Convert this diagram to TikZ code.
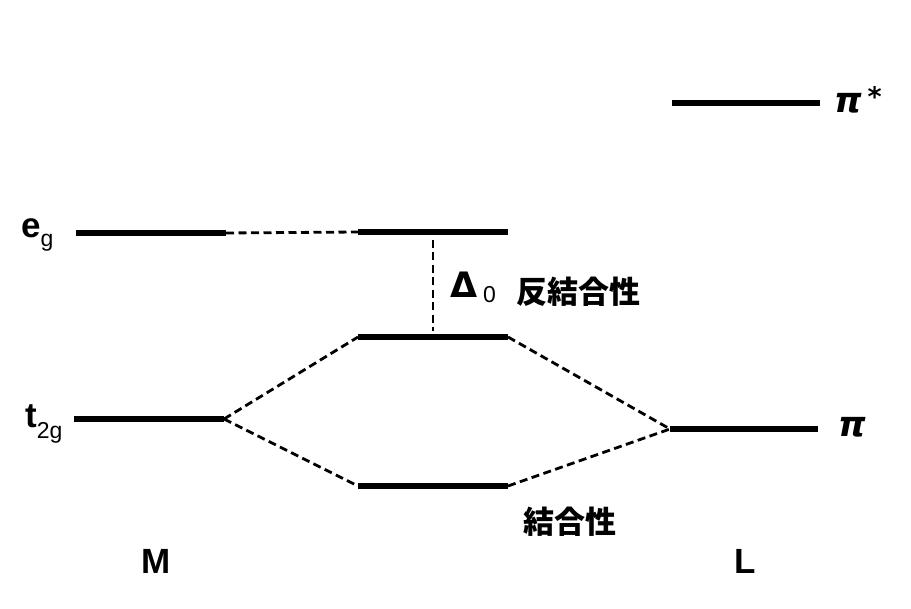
\documentclass[tikz,border=0pt]{standalone}
\usepackage{fontspec}
\setmainfont{Liberation Sans}
\newfontfamily\jpfont{Noto Sans CJK JP}
\newfontfamily\grfont{DejaVu Sans}
\usetikzlibrary{calc}

\begin{document}
\begin{tikzpicture}[
        x=1pt, y=-1pt,
        level/.style={line width=6.5pt},
        link/.style={line width=2.8pt, dash pattern=on 8pt off 4.5pt},
        lbl/.style={font=\fontsize{35}{40}\selectfont\bfseries, inner sep=0pt},
        jp/.style={font=\fontsize{31}{36}\selectfont\jpfont\bfseries, inner sep=0pt}
    ]
    \useasboundingbox (0,0) rectangle (911,609);

    % energy levels
    \coordinate (egL) at (76,233);   \coordinate (egR) at (226,233);
    \coordinate (egcL) at (358,232); \coordinate (egcR) at (508,232);
    \coordinate (abL) at (358,337);  \coordinate (abR) at (508,337);
    \coordinate (t2gL) at (74,419);  \coordinate (t2gR) at (224,419);
    \coordinate (bL) at (358,486);   \coordinate (bR) at (508,486);
    \coordinate (piL) at (670,429);  \coordinate (piR) at (818,429);
    \coordinate (pisL) at (672,103); \coordinate (pisR) at (820,103);
    \coordinate (gapT) at (433,240); \coordinate (gapB) at (433,331);

    \draw [level] (egL) -- (egR);
    \draw [level] (egcL) -- (egcR);
    \draw [level] (abL) -- (abR);
    \draw [level] (t2gL) -- (t2gR);
    \draw [level] (bL) -- (bR);
    \draw [level] (piL) -- (piR);
    \draw [level] (pisL) -- (pisR);

    % correlation lines
    \draw [link] (egR) -- (egcL);
    \draw [link] (t2gR) -- (abL);
    \draw [link] (t2gR) -- (bL);
    \draw [link] (abR) -- (piL);
    \draw [link] (bR) -- (piL);
    \draw [link] (gapT) -- (gapB);

    % labels
    \node (eg) [lbl, anchor=base west] at (21,238) {e\raisebox{-9pt}{\fontsize{23}{26}\selectfont\mdseries g}};
    \node (t2g) [lbl, anchor=base west] at (25,428) {t\raisebox{-11pt}{\fontsize{23}{26}\selectfont\mdseries 2g}};
    \node (delta) [lbl, anchor=base west] at (450,298) {{\grfont\bfseries Δ}\,\raisebox{-5pt}{\fontsize{23}{26}\selectfont\mdseries 0}};
    \node (anti) [jp] at (578,292) {反結合性};
    \node (bond) [jp] at (570,522) {結合性};
    \node (M) [lbl] at (156,561) {M};
    \node (L) [lbl] at (745,561) {L};
    \node (pi) [lbl] at (852,427) {\grfont\bfseries\itshape π};
    \node (pis) [lbl, anchor=west] at (834,100) {\grfont\bfseries\itshape π\,\raisebox{6pt}{\fontsize{27}{27}\selectfont *}};

\end{tikzpicture}
\end{document}
